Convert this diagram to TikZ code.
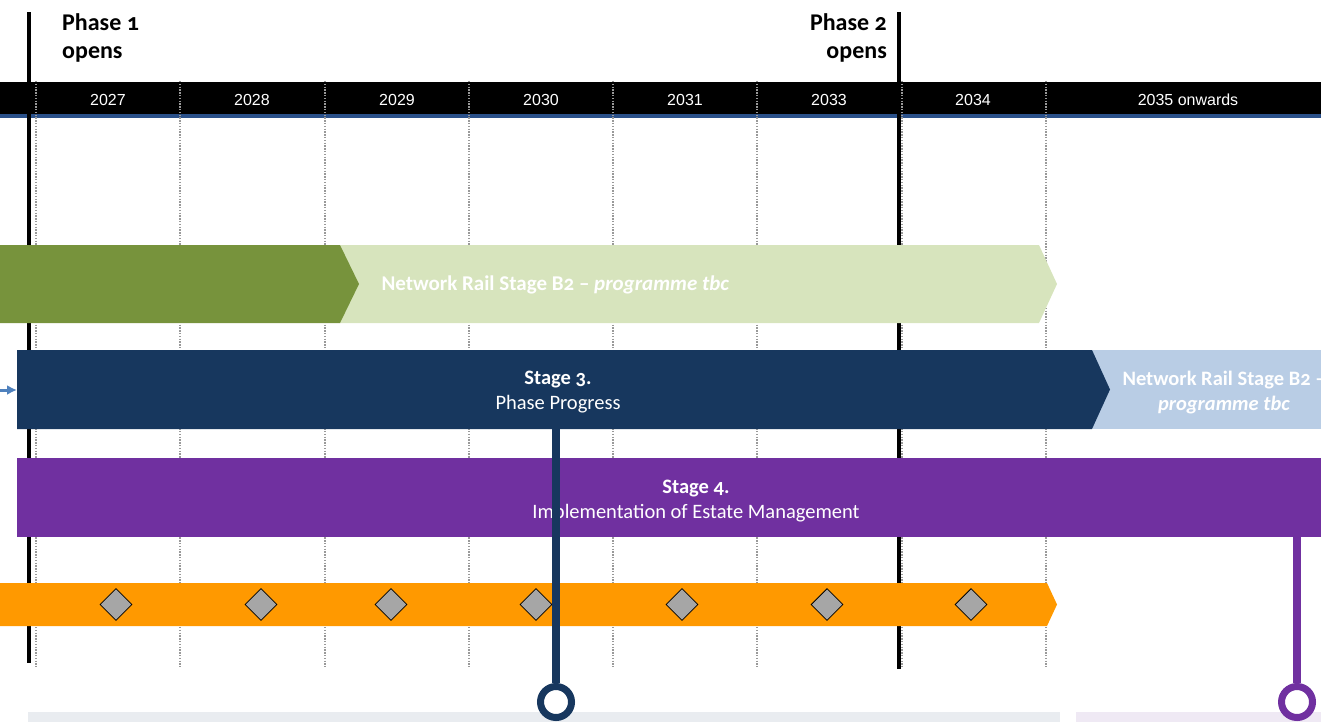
\documentclass[tikz,border=0pt]{standalone}
\usepackage{fontspec}
\setmainfont{Carlito}[Numbers=OldStyle]
\newfontfamily\yearfont{Liberation Sans}
\usetikzlibrary{shapes.geometric,arrows.meta}
\tikzset{>=latex}

\definecolor{navy}{HTML}{17375E}
\definecolor{skyblue}{HTML}{B9CDE5}
\definecolor{olive}{HTML}{77933C}
\definecolor{palegreen}{HTML}{D7E4BD}
\definecolor{violet}{HTML}{7030A0}
\definecolor{amber}{HTML}{FF9900}
\definecolor{stone}{HTML}{A6A6A6}
\definecolor{barblue}{HTML}{2A5089}
\definecolor{arrowblue}{HTML}{4F81BD}
\definecolor{greybox}{HTML}{E9ECF0}
\definecolor{lilacbox}{HTML}{EFE9F4}

\tikzset{
  gridline/.style={gray!80, line width=1.3pt, dash pattern=on 1.4pt off 1.4pt},
  phase/.style={black, line width=4.5pt},
  phaselbl/.style={font=\fontsize{24}{28}\selectfont\bfseries, inner sep=0pt},
  year/.style={white, font=\yearfont\fontsize{16}{18}\selectfont},
  barlbl/.style={white, align=center, font=\fontsize{20.5}{25}\selectfont},
  milestone/.style={diamond, draw=black, fill=stone, line width=0.8pt,
                    minimum width=32pt, minimum height=32pt, inner sep=0pt},
  endring/.style={circle, fill=white, line width=7pt, minimum size=31pt, inner sep=0pt},
}

\begin{document}
\begin{tikzpicture}[x=1pt,y=-1pt]
  \useasboundingbox (0,0) rectangle (1321,722);

  % USER SETTINGS
  \def\W{1321}   % page width
  \def\gbot{667} % end of grid lines

  % YEAR BAR
  \fill[black] (0,82) rectangle (\W,114);
  \fill[barblue] (0,114) rectangle (\W,118.5);

  % GRID
  \foreach \x in {36,180,325,469,613,757,902,1046}
    \draw[gridline] (\x,81) -- (\x,\gbot);

  % YEARS
  \foreach \x/\yr [count=\i] in {108/2027,252/2028,397/2029,541/2030,
                                 685/2031,829/2033,973/2034,1188/2035 onwards}
    \node[year] (yr\i) at (\x,99.5) {\yr};

  % PHASES
  \draw[phase] (29,12.5) -- (29,663);
  \draw[phase] (899,12.5) -- (899,669);
  \node[phaselbl, anchor=north west, align=left]  (ph1) at (62,13) {Phase 1\\opens};
  \node[phaselbl, anchor=north east, align=right] (ph2) at (887,13) {Phase 2\\opens};

  % NETWORK RAIL STAGE B2
  \fill[palegreen] (340,245) -- (1039,245) -- (1057,284) -- (1039,323) -- (340,323) -- cycle;
  \fill[olive] (0,245) -- (340,245) -- (359,284) -- (340,323) -- (0,323) -- cycle;
  \node[barlbl, anchor=west, font=\fontsize{21}{22}\selectfont\bfseries]
    (b2) at (378,285) {Network Rail Stage B2 -- \textit{programme tbc}};

  % STAGE 3
  \fill[skyblue] (1092,350) rectangle (\W+40,429);
  \fill[navy] (17,350) -- (1092,350) -- (1110,389.5) -- (1092,429) -- (17,429) -- cycle;
  \coordinate (s3in) at (17,390);
  \coordinate (s3out) at (556,429);
  \node[barlbl] (s3) at (558,392.5) {\textbf{Stage 3.}\\Phase Progress};
  \node[barlbl, font=\fontsize{20.5}{25}\selectfont\bfseries]
    (s3b2) at (1224,392.5) {Network Rail Stage B2 --\\\textit{programme tbc}};
  \draw[-{Latex[length=10pt,width=10pt]}, arrowblue, line width=3pt] (-2,390) -- (s3in);

  % STAGE 4
  \fill[violet] (17,458) rectangle (\W,537);
  \coordinate (s4out) at (1297,537);
  \node[barlbl] (s4) at (696,501) {\textbf{Stage 4.}\\Implementation of Estate Management};

  % ORANGE BAR AND MILESTONES
  \fill[amber] (0,583) -- (1047,583) -- (1057,604.5) -- (1047,626) -- (0,626) -- cycle;
  \foreach \x [count=\i] in {116,261,391,536,682,827,971}
    \node[milestone] (ms\i) at (\x,604.5) {};

  % BOTTOM BOXES
  \fill[greybox]  (28,712) rectangle (1060,\W);
  \fill[lilacbox] (1076,712) rectangle (\W,\W);

  % END RINGS
  \node[endring, draw=navy]   (r3) at (556,702) {};
  \node[endring, draw=violet] (r4) at (1297,702) {};
  \draw[navy, line width=7.5pt]   (s3out) -- (r3.north);
  \draw[violet, line width=7.5pt] (s4out) -- (r4.north);

\end{tikzpicture}
\end{document}
